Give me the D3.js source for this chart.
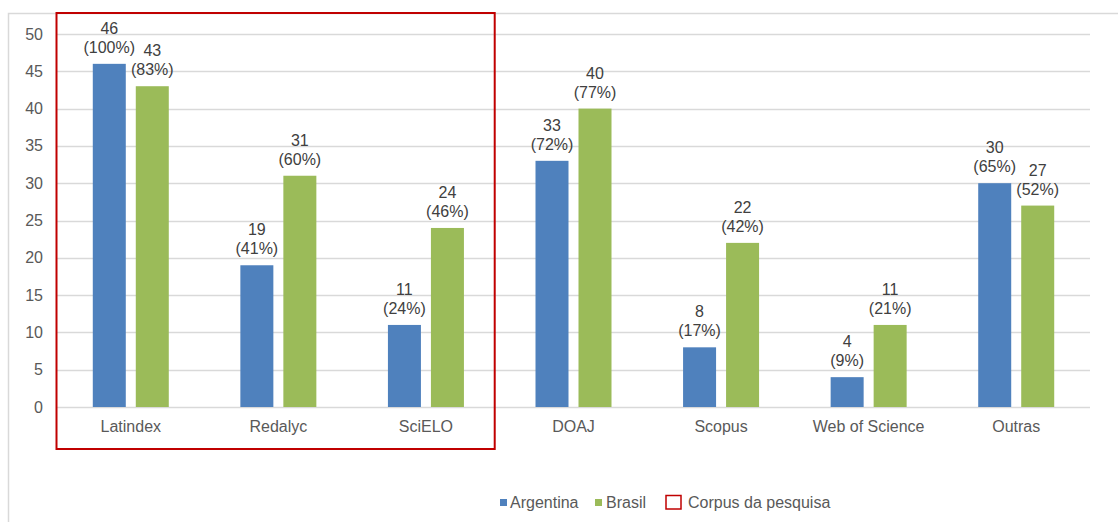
<!DOCTYPE html>
<html><head><meta charset="utf-8">
<script src="https://cdn.jsdelivr.net/npm/d3@7"></script>
<style>body{margin:0;background:#fff;} text{font-family:"Liberation Sans",Arial,sans-serif;}</style>
</head><body>
<svg id="c" width="1118" height="522"></svg>
<script>
const categories = ["Latindex","Redalyc","SciELO","DOAJ","Scopus","Web of Science","Outras"];
const seriesNames = ["Argentina","Brasil"];
const argentina = [46,19,11,33,8,4,30];
const brasil = [43,31,24,40,22,11,27];
const argentinaPct = ["(100%)","(41%)","(24%)","(72%)","(17%)","(9%)","(65%)"];
const brasilPct = ["(83%)","(60%)","(46%)","(77%)","(42%)","(21%)","(52%)"];
const yTicks = [0,5,10,15,20,25,30,35,40,45,50];
const corpus = ["Latindex","Redalyc","SciELO"];
const colors = ["#4f81bd","#9bbb59"];

const svg = d3.select("#c");
const pLeft = 57, pRight = 1090, pTop = 34, pBottom = 407;
const x = d3.scaleBand().domain(categories).range([pLeft,pRight]);
const y = d3.scaleLinear().domain([0,50]).range([pBottom,pTop]);
const barW = 33, gap = 10;
const fs = 16;

// outer border
svg.append("path").attr("d",`M8.5,522 V13.5 H1118`).attr("fill","none").attr("stroke","#d9d9d9").attr("stroke-width",1.5);

// gridlines
svg.append("g").selectAll("line").data(yTicks).join("line")
  .attr("x1",pLeft).attr("x2",pRight).attr("y1",d=>Math.round(y(d))+0.5).attr("y2",d=>Math.round(y(d))+0.5)
  .attr("stroke","#d9d9d9").attr("stroke-width",1.3);

// y labels
svg.append("g").selectAll("text").data(yTicks).join("text")
  .attr("x",43).attr("y",d=>y(d)+5.5).attr("text-anchor","end")
  .attr("font-size",fs).attr("fill","#595959").text(d=>d);

// x labels
svg.append("g").selectAll("text").data(categories).join("text")
  .attr("x",d=>x(d)+x.bandwidth()/2).attr("y",432).attr("text-anchor","middle")
  .attr("font-size",fs).attr("fill","#595959").text(d=>d);

const series = [argentina, brasil];
const pcts = [argentinaPct, brasilPct];
series.forEach((vals,si)=>{
  const g = svg.append("g");
  const xpos = (c)=> x(c)+x.bandwidth()/2 + (si===0 ? -gap/2-barW : gap/2);
  g.selectAll("rect").data(categories).join("rect")
    .attr("x",c=>xpos(c)).attr("width",barW)
    .attr("y",(c,i)=>y(vals[i])).attr("height",(c,i)=>y(0)-y(vals[i]))
    .attr("fill",colors[si]);
  g.selectAll("text.v").data(categories).join("text").attr("class","v")
    .attr("x",c=>xpos(c)+barW/2).attr("y",(c,i)=>y(vals[i])-30)
    .attr("text-anchor","middle").attr("font-size",fs).attr("fill","#404040").text((c,i)=>vals[i]);
  g.selectAll("text.p").data(categories).join("text").attr("class","p")
    .attr("x",c=>xpos(c)+barW/2).attr("y",(c,i)=>y(vals[i])-11)
    .attr("text-anchor","middle").attr("font-size",fs).attr("fill","#404040").text((c,i)=>pcts[si][i]);
});

// corpus rectangle
const cx0 = x(corpus[0]) - 0.5, cx1 = x(corpus[corpus.length-1]) + x.bandwidth() - 5;
svg.append("rect").attr("x",cx0).attr("y",13).attr("width",cx1-cx0).attr("height",436)
  .attr("fill","none").attr("stroke","#c00000").attr("stroke-width",2);

// legend
const lg = svg.append("g").attr("font-size",fs);
lg.append("rect").attr("x",500).attr("y",499).attr("width",7).attr("height",7).attr("fill",colors[0]);
lg.append("text").attr("x",510).attr("y",508).attr("fill","#595959").text(seriesNames[0]);
lg.append("rect").attr("x",595).attr("y",499).attr("width",7).attr("height",7).attr("fill",colors[1]);
lg.append("text").attr("x",606).attr("y",508).attr("fill","#595959").text(seriesNames[1]);
lg.append("rect").attr("x",666).attr("y",495.5).attr("width",15).attr("height",13.5).attr("fill","none").attr("stroke","#c00000").attr("stroke-width",1.5);
lg.append("text").attr("x",688).attr("y",508).attr("fill","#595959").text("Corpus da pesquisa");
</script>
</body></html>
